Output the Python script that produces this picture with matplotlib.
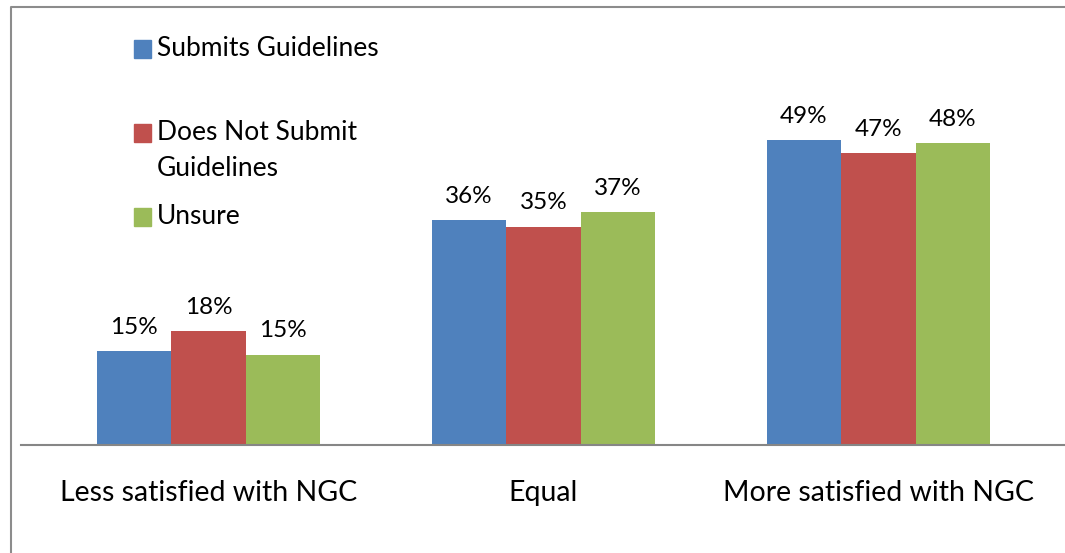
import numpy as np
import matplotlib.pyplot as plt
from matplotlib.patches import Rectangle
from matplotlib.lines import Line2D

categories = ['Less satisfied with NGC', 'Equal', 'More satisfied with NGC']
series_names = ['Submits Guidelines', 'Does Not Submit\nGuidelines', 'Unsure']
submits = [15.1, 36.1, 48.9]
not_submit = [18.2, 35.0, 46.8]
unsure = [14.5, 37.3, 48.4]
value_labels = [['15%', '36%', '49%'], ['18%', '35%', '47%'], ['15%', '37%', '48%']]
colors = ['#4F81BD', '#C0504D', '#9BBB59']

plt.rcParams['font.family'] = ['Lato', 'DejaVu Sans']

W, H = 1065, 553
fig = plt.figure(figsize=(W / 100, H / 100), dpi=100)

# axes in pixel coords: left 21, right 1065, bottom 445, top 20
ax = fig.add_axes([21 / W, 1 - 445 / H, (1065 - 21) / W, (445 - 20) / H])
ax.set_ylim(0, 425 / 6.24)
ax.set_xlim((21 - 208.5) / 335, (1065 - 208.5) / 335)

x = np.arange(len(categories))
width = 74.5 / 335
all_series = [submits, not_submit, unsure]
for i, vals in enumerate(all_series):
    pos = x + (i - 1) * width
    bars = ax.bar(pos, vals, width, color=colors[i], edgecolor='none', zorder=2)
    for b, lab in zip(bars, value_labels[i]):
        ax.text(b.get_x() + b.get_width() / 2, b.get_height() + 2.1, lab,
                ha='center', va='bottom', fontsize=17.5)

for s in ['top', 'right', 'left']:
    ax.spines[s].set_visible(False)
ax.spines['bottom'].set_color('#868686')
ax.spines['bottom'].set_linewidth(1.5)
ax.set_yticks([])
ax.set_xticks(x)
ax.set_xticklabels(categories, fontsize=20.5)
ax.tick_params(axis='x', length=0, pad=25)

# legend drawn by hand, Excel-style spacing
leg_y = [49, 133, 217]
text_y = [49, 151, 217]
for c, name, ly, ty in zip(colors, series_names, leg_y, text_y):
    fig.patches.append(Rectangle((134 / W, 1 - (ly + 8.5) / H), 17 / W, 17 / H,
                                 transform=fig.transFigure, color=c))
    fig.text(157 / W, 1 - ty / H, name, ha='left', va='center', fontsize=19,
             linespacing=1.55)

# outer chart frame (cropped on right/bottom)
fig.lines.append(Line2D([11 / W, 11 / W, 1.0], [0.0, 1 - 7 / H, 1 - 7 / H],
                        transform=fig.transFigure, color='#8c8c8c', lw=1.5))

fig.savefig('out.png', dpi=100)
